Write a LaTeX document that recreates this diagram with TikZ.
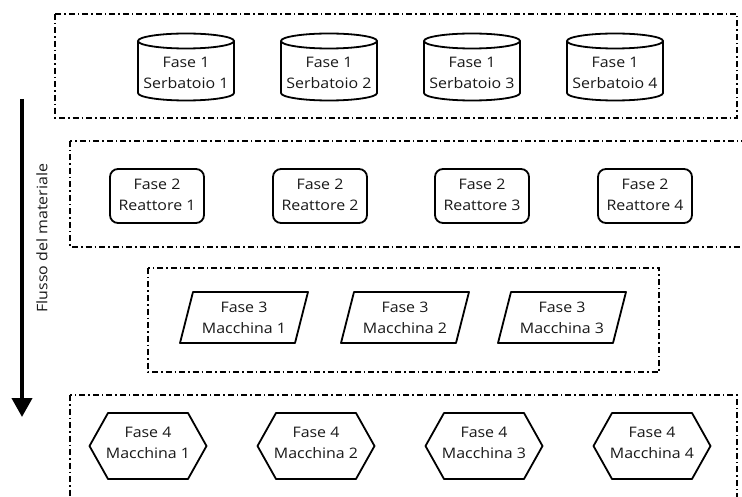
\documentclass[tikz,border=0pt]{standalone}
\usepackage{fontspec}
\setmainfont{Open Sans}[FakeStretch=1.1]
\usetikzlibrary{arrows.meta}
\tikzset{
  frame/.style={line width=1.4pt, dash pattern=on 6pt off 3pt on 1.5pt off 3pt},
  shapeline/.style={line width=1.8pt, line join=round},
  label/.style={font=\fontsize{14.5}{21}\selectfont, align=center, text=black!90, inner sep=0pt},
}
\begin{document}
\begin{tikzpicture}[x=1pt, y=-1pt]
  \useasboundingbox (0,0) rectangle (742,497);

  % dash-dot group frames
  \draw[frame] (55,14) rectangle (737,118);
  \draw[frame] (70,141) rectangle (748,247);
  \draw[frame] (148,268) rectangle (659,372);
  \draw[frame] (70,395) rectangle (737,505);

  % material flow arrow
  \coordinate (flowstart) at (22,99);
  \coordinate (flowend) at (22,417);
  \draw[line width=4pt, -{Triangle[width=20pt, length=19pt]}] (flowstart) -- (flowend);
  \node[label, rotate=90] (flow) at (42,238) {Flusso del materiale};

  % phase 1: storage tanks
  \foreach \i/\cx in {1/186, 2/329, 3/472, 4/615} {
    \draw[shapeline] (\cx-48,41) -- (\cx-48,93) arc[start angle=180, end angle=0, x radius=48, y radius=7.5]
      -- (\cx+48,41);
    \draw[shapeline] (\cx,41) ellipse[x radius=48, y radius=7.5];
    \node[label] (tank\i) at (\cx,73) {Fase 1\\Serbatoio \i};
  }

  % phase 2: reactors
  \foreach \i/\cx in {1/157, 2/320, 3/482, 4/645} {
    \draw[shapeline, rounded corners=8pt] (\cx-47,169) rectangle (\cx+47,223);
    \node[label] (reactor\i) at (\cx,195) {Fase 2\\Reattore \i};
  }

  % phase 3: machines (parallelograms)
  \foreach \i/\cx in {1/244, 2/405, 3/562} {
    \draw[shapeline] (\cx-51,292) -- (\cx+64,292) -- (\cx+51,343) -- (\cx-64,343) -- cycle;
    \node[label] (machA\i) at (\cx,318) {Fase 3\\Macchina \i};
  }

  % phase 4: machines (hexagons)
  \foreach \i/\cx in {1/148, 2/316, 3/484, 4/652} {
    \draw[shapeline] (\cx-58.5,446) -- (\cx-40,413) -- (\cx+40,413) -- (\cx+58.5,446)
      -- (\cx+40,479) -- (\cx-40,479) -- cycle;
    \node[label] (machB\i) at (\cx,443) {Fase 4\\Macchina \i};
  }
\end{tikzpicture}
\end{document}
